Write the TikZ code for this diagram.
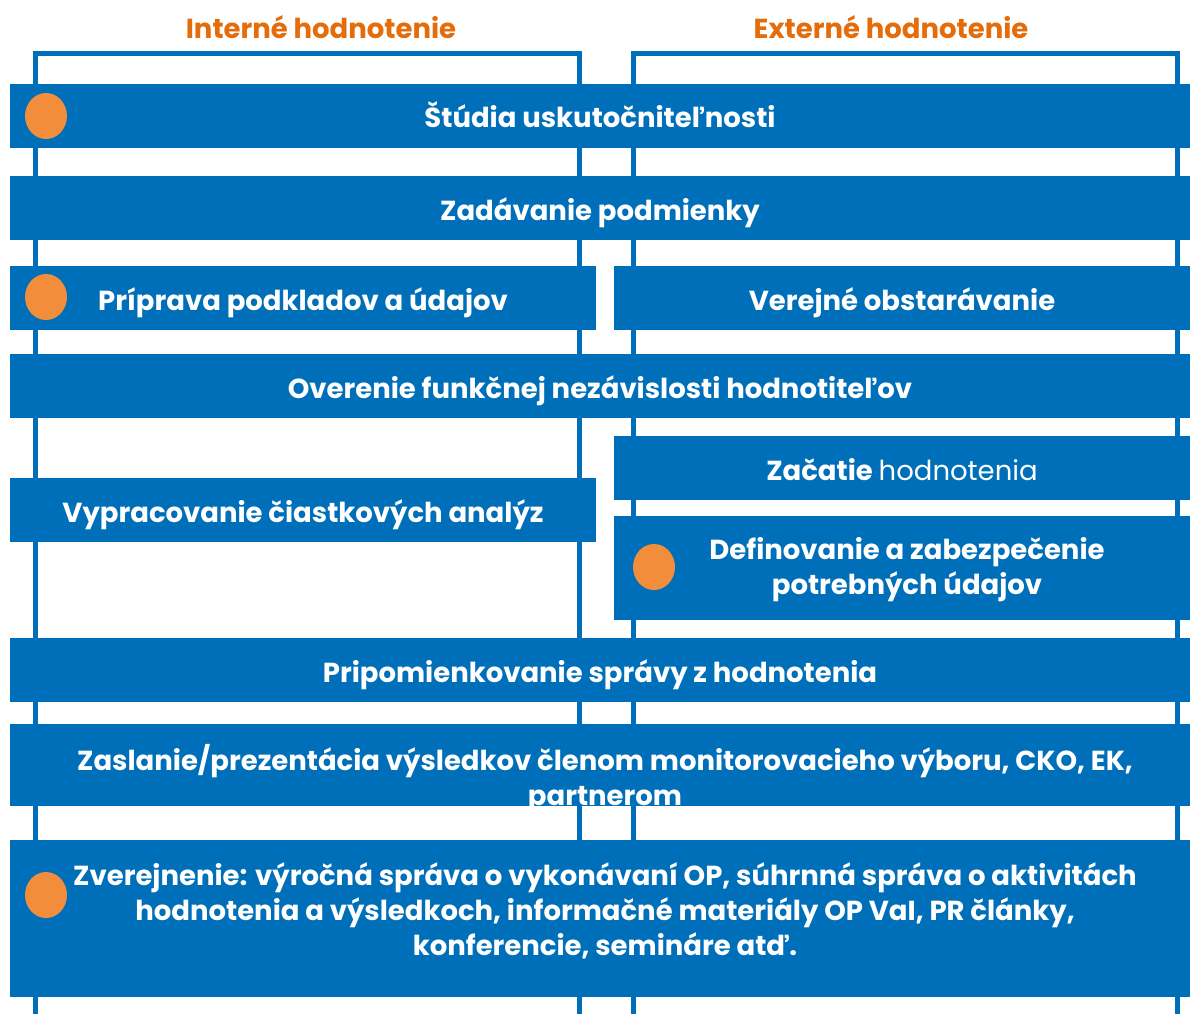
\documentclass[tikz,border=0pt]{standalone}
\usepackage{fontspec}
\setmainfont{Poppins}
\usetikzlibrary{shapes.geometric}
\definecolor{barblue}{RGB}{0,111,185}
\definecolor{headorange}{RGB}{228,108,10}
\definecolor{dotorange}{RGB}{242,141,60}

\begin{document}
\begin{tikzpicture}[x=1pt,y=-1pt,
  frame/.style={barblue,line width=5pt},
  bar/.style={fill=barblue,text=white,inner sep=0pt,align=center,
    text height=25pt,text depth=1pt,
    font=\bfseries\fontsize{27.5}{34}\selectfont},
  bartext/.style={text=white,inner sep=0pt,align=center,
    font=\bfseries\fontsize{27.5}{35}\selectfont},
  dot/.style={ellipse,fill=dotorange,inner sep=0pt,minimum width=42pt,minimum height=46pt},
  head/.style={text=headorange,font=\bfseries\fontsize{27.5}{30}\selectfont}]
\useasboundingbox (0,0) rectangle (1190,1014);
\draw[frame] (35,1014) -- (35,54) -- (579,54) -- (579,1014);
\draw[frame] (633,1014) -- (633,54) -- (1177,54) -- (1177,1014);
\node[head] (intern) at (321,27) {Interné hodnotenie};
\node[head] (extern) at (891,27) {Externé hodnotenie};
\node[bar,minimum width=1180pt,minimum height=64pt] (studia) at (600,116) {Štúdia uskutočniteľnosti};
\node[bar,minimum width=1180pt,minimum height=64pt] (zadavanie) at (600,208) {Zadávanie podmienky};
\node[bar,minimum width=586pt,minimum height=64pt] (priprava) at (303,298) {Príprava podkladov a údajov};
\node[bar,minimum width=576pt,minimum height=64pt] (obstaravanie) at (902,298) {Verejné obstarávanie};
\node[bar,minimum width=1180pt,minimum height=64pt] (overenie) at (600,386) {Overenie funkčnej nezávislosti hodnotiteľov};
\node[bar,minimum width=576pt,minimum height=64pt] (zacatie) at (902,468) {Začatie {\mdseries hodnotenia}};
\node[bar,minimum width=586pt,minimum height=64pt] (analyzy) at (303,510) {Vypracovanie čiastkových analýz};
\node[bar,minimum width=576pt,minimum height=104pt] (udaje) at (902,568) {};
\node[bartext] (udajetext) at (907,570) {Definovanie a zabezpečenie\\potrebných údajov};
\node[bar,minimum width=1180pt,minimum height=64pt] (pripomienky) at (600,670) {Pripomienkovanie správy z hodnotenia};
\node[bar,minimum width=1180pt,minimum height=82pt] (zaslanie) at (600,765) {};
\begin{scope}
\clip (zaslanie.north west) rectangle (zaslanie.south east);
\node[bartext] (zaslanietext) at (605,779) {Zaslanie/prezentácia výsledkov členom monitorovacieho výboru, CKO, EK,\\partnerom};
\end{scope}
\node[bar,minimum width=1180pt,minimum height=157pt] (zverejnenie) at (600,918.5) {};
\node[bartext] (zverejnenietext) at (605,911) {Zverejnenie: výročná správa o vykonávaní OP, súhrnná správa o aktivitách\\hodnotenia a výsledkoch, informačné materiály OP VaI, PR články,\\konferencie, semináre atď.};
\node[dot] (dot1) at (46,116) {};
\node[dot] (dot2) at (46,297) {};
\node[dot] (dot3) at (654,567) {};
\node[dot] (dot4) at (46,895) {};
\end{tikzpicture}
\end{document}
